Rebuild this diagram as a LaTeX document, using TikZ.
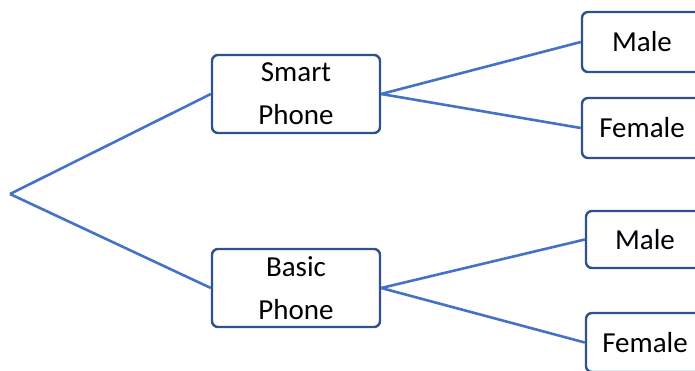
\documentclass[tikz,border=0pt]{standalone}
\usepackage{fontspec}
\setmainfont{Carlito}
\definecolor{boxc}{HTML}{2F528F}
\definecolor{linec}{HTML}{4472C4}
\begin{document}
\begin{tikzpicture}[x=1pt,y=-1pt,
 box/.style={draw=boxc, line width=2.4pt, rounded corners=6pt, fill=white, inner sep=0pt, align=center, font=\fontsize{29}{43}\selectfont},
 conn/.style={draw=linec, line width=2.6pt}]
\useasboundingbox (0,0) rectangle (695,370);
\clip (0,0) rectangle (695,370);
\coordinate (root) at (10,194);
\node[box, minimum width=168, minimum height=78] (sp) at (296,94) {Smart\\Phone};
\node[box, minimum width=168, minimum height=78] (bp) at (296,288) {Basic\\Phone};
\node[box, minimum width=120, minimum height=60] (m1) at (642,42) {Male};
\node[box, minimum width=120, minimum height=60] (f1) at (642,128) {Female};
\node[box, minimum width=118, minimum height=57] (m2) at (645,239.5) {Male};
\node[box, minimum width=118, minimum height=59] (f2) at (645,342.5) {Female};
\draw[conn] (root) -- (sp.west);
\draw[conn] (root) -- (bp.west);
\draw[conn] (sp.east) -- (m1.west);
\draw[conn] (sp.east) -- (f1.west);
\draw[conn] (bp.east) -- (m2.west);
\draw[conn] (bp.east) -- (f2.west);
\end{tikzpicture}
\end{document}
